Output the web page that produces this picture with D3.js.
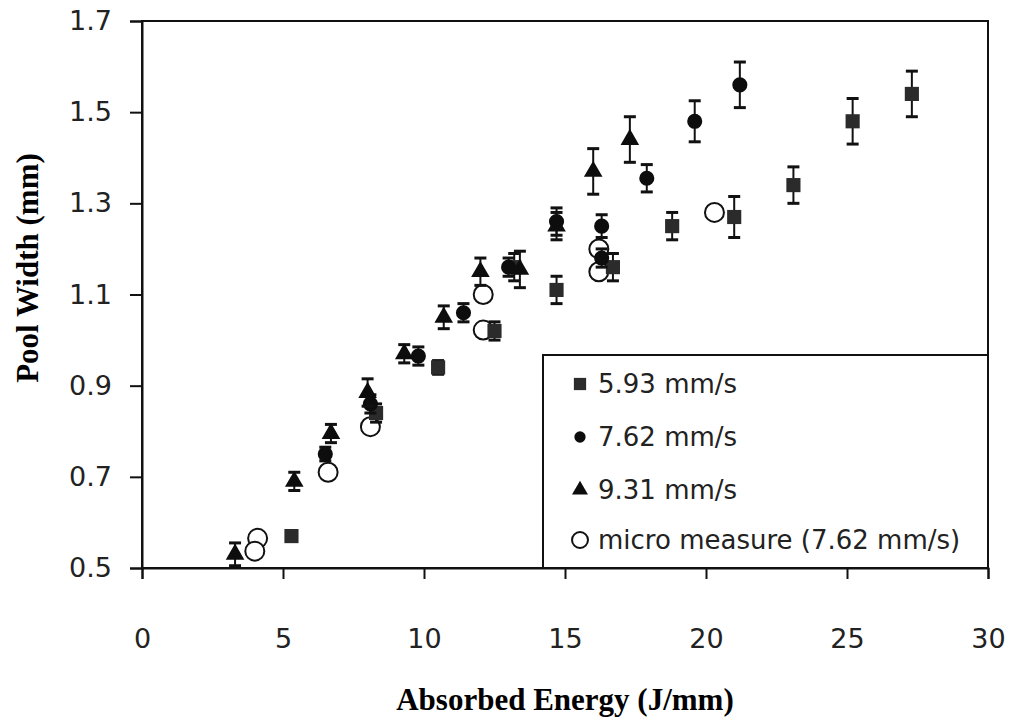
<!DOCTYPE html>
<html>
<head>
<meta charset="utf-8">
<script src="https://cdn.jsdelivr.net/npm/d3@7"></script>
<style>
  body { margin: 0; background: #fff; }
  svg { display: block; }
  .tick text { font-family: "DejaVu Sans", sans-serif; font-size: 27px; fill: #222; }
  .title { font-family: "Liberation Serif", serif; font-weight: bold; font-size: 31px; }
  .legend text { font-family: "DejaVu Sans", sans-serif; font-size: 26px; fill: #222; }
</style>
</head>
<body>
<div id="chart"></div>
<script>
// values: [energy J/mm, width mm, error mm]
const speed593 = [
  [5.3, 0.57, 0.01], [8.3, 0.84, 0.02], [10.5, 0.94, 0.015], [12.5, 1.02, 0.02],
  [13.2, 1.16, 0.03], [14.7, 1.11, 0.03], [16.7, 1.16, 0.03], [18.8, 1.25, 0.03],
  [21.0, 1.27, 0.045], [23.1, 1.34, 0.04], [25.2, 1.48, 0.05], [27.3, 1.54, 0.05]
];
const speed762 = [
  [6.5, 0.75, 0.015], [8.1, 0.86, 0.02], [9.8, 0.965, 0.02], [11.4, 1.06, 0.02],
  [13.0, 1.16, 0.02], [14.7, 1.26, 0.03], [16.3, 1.18, 0.02], [16.3, 1.25, 0.025],
  [17.9, 1.355, 0.03], [19.6, 1.48, 0.045], [21.2, 1.56, 0.05]
];
const speed931 = [
  [3.3, 0.53, 0.025], [5.4, 0.69, 0.02], [6.7, 0.795, 0.02], [8.0, 0.885, 0.03],
  [9.3, 0.97, 0.02], [10.7, 1.05, 0.025], [12.0, 1.15, 0.03], [13.4, 1.155, 0.04],
  [14.7, 1.25, 0.03], [16.0, 1.37, 0.05], [17.3, 1.44, 0.05]
];
const microMeasure = [
  [4.1, 0.565], [4.0, 0.537], [6.6, 0.71], [8.1, 0.81], [12.1, 1.10],
  [12.1, 1.022], [16.2, 1.20], [16.2, 1.15], [20.3, 1.28]
];
const xTicks = [0, 5, 10, 15, 20, 25, 30];
const yTicks = [0.5, 0.7, 0.9, 1.1, 1.3, 1.5, 1.7];
const legendLabels = ['5.93 mm/s', '7.62 mm/s', '9.31 mm/s', 'micro measure (7.62 mm/s)'];

const W = 1012, H = 728;
const margin = {left: 142, right: 24, top: 21, bottom: 160};

const svg = d3.select('#chart').append('svg')
  .attr('width', W)
  .attr('height', H);

const x = d3.scaleLinear().domain([0, 30]).range([margin.left, W - margin.right]);
const y = d3.scaleLinear().domain([0.5, 1.7]).range([H - margin.bottom, margin.top]);

// frame
svg.append('rect')
  .attr('x', x(0)).attr('y', y(1.7))
  .attr('width', x(30) - x(0)).attr('height', y(0.5) - y(1.7))
  .attr('fill', 'none').attr('stroke', '#111').attr('stroke-width', 2);

const xAxis = svg.append('g')
  .attr('transform', 'translate(0,' + y(0.5) + ')')
  .call(d3.axisBottom(x).tickValues(xTicks).tickSize(11).tickPadding(50).tickFormat(d3.format('d')));
const yAxis = svg.append('g')
  .attr('transform', 'translate(' + x(0) + ',0)')
  .call(d3.axisLeft(y).tickValues(yTicks).tickSize(12).tickPadding(18).tickFormat(d3.format('.1f')));
[xAxis, yAxis].forEach(a => {
  a.select('.domain').attr('stroke', '#111').attr('stroke-width', 2);
  a.selectAll('.tick line').attr('stroke', '#111').attr('stroke-width', 2);
});

// titles
svg.append('text').attr('class', 'title')
  .attr('x', 565).attr('y', 710).attr('text-anchor', 'middle')
  .text('Absorbed Energy (J/mm)');
svg.append('text').attr('class', 'title')
  .attr('transform', 'translate(38,268) rotate(-90)')
  .attr('text-anchor', 'middle')
  .text('Pool Width (mm)');

const plot = svg.append('g');

// open circles go underneath the filled markers
plot.selectAll('.micro').data(microMeasure).join('circle')
  .attr('class', 'micro')
  .attr('cx', d => x(d[0])).attr('cy', d => y(d[1])).attr('r', 9.5)
  .attr('fill', '#fff').attr('stroke', '#111').attr('stroke-width', 2);

const series = [
  {data: speed593, shape: d3.symbolSquare, size: 200, fill: '#2b2b2b'},
  {data: speed762, shape: d3.symbolCircle, size: 180, fill: '#0d0d0d'},
  {data: speed931, shape: d3.symbolTriangle, size: 150, fill: '#0d0d0d'}
];

series.forEach(s => {
  const g = plot.append('g');
  const bars = g.selectAll('g.err').data(s.data).join('g').attr('class', 'err')
    .attr('stroke', '#111').attr('stroke-width', 2);
  bars.append('line')
    .attr('x1', d => x(d[0])).attr('x2', d => x(d[0]))
    .attr('y1', d => y(d[1] - d[2])).attr('y2', d => y(d[1] + d[2]));
  [-1, 1].forEach(sign => {
    bars.append('line')
      .attr('x1', d => x(d[0]) - 6).attr('x2', d => x(d[0]) + 6)
      .attr('y1', d => y(d[1] + sign * d[2])).attr('y2', d => y(d[1] + sign * d[2]))
      .attr('stroke-width', 3);
  });
  g.selectAll('path').data(s.data).join('path')
    .attr('d', d3.symbol().type(s.shape).size(s.size))
    .attr('transform', d => 'translate(' + x(d[0]) + ',' + y(d[1]) + ')')
    .attr('fill', s.fill);
});

// legend
const lg = svg.append('g').attr('class', 'legend');
lg.append('rect')
  .attr('x', 543).attr('y', 355)
  .attr('width', x(30) - 543).attr('height', y(0.5) - 355)
  .attr('fill', '#fff').attr('stroke', '#111').attr('stroke-width', 2);
const rowY = [384, 437, 490, 540];
const legendShapes = [
  {shape: d3.symbolSquare, size: 150},
  {shape: d3.symbolCircle, size: 100},
  {shape: d3.symbolTriangle, size: 110},
  {shape: d3.symbolCircle, size: 200, open: true}
];
legendLabels.forEach((label, i) => {
  const sh = legendShapes[i];
  lg.append('path')
    .attr('d', d3.symbol().type(sh.shape).size(sh.size))
    .attr('transform', 'translate(580,' + rowY[i] + ')')
    .attr('fill', sh.open ? '#fff' : (i === 0 ? '#2b2b2b' : '#0d0d0d'))
    .attr('stroke', sh.open ? '#111' : 'none').attr('stroke-width', 2);
  lg.append('text')
    .attr('x', 598).attr('y', rowY[i] + 9)
    .text(label);
});
</script>
</body>
</html>
